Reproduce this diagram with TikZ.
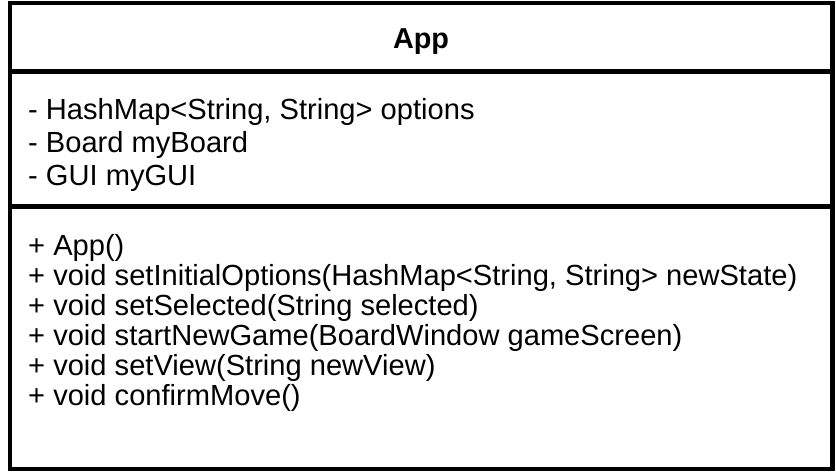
\documentclass[tikz,border=0pt]{standalone}
\usepackage{fontspec}
\setmainfont{Liberation Sans}
\begin{document}
\begin{tikzpicture}[x=1pt,y=-1pt,
  boxline/.style={line width=4.2pt,draw=black},
  member/.style={anchor=base west,inner sep=0pt,font=\fontsize{29.1}{30}\selectfont},
  title/.style={anchor=base,inner sep=0pt,font=\fontsize{28.8}{30}\selectfont\bfseries}]
\useasboundingbox (0,0) rectangle (836,472);
\draw[boxline] (10,3) rectangle (832.5,469);
\coordinate (d1l) at (10,71.5);
\coordinate (d1r) at (832.5,71.5);
\coordinate (d2l) at (10,206.5);
\coordinate (d2r) at (832.5,206.5);
\draw[boxline] (d1l) -- (d1r);
\draw[boxline] (d2l) -- (d2r);
\node[title] (t) at (421,48) {App};
\node[member] (a1) at (28,119) {- HashMap<String, String> options};
\node[member] (a2) at (28,152) {- Board myBoard};
\node[member] (a3) at (28,185) {- GUI myGUI};
\node[member] (m1) at (28,255) {+ App()};
\node[member] (m2) at (28,285) {+ void setInitialOptions(HashMap<String, String> newState)};
\node[member] (m3) at (28,315) {+ void setSelected(String selected)};
\node[member] (m4) at (28,345) {+ void startNewGame(BoardWindow gameScreen)};
\node[member] (m5) at (28,375) {+ void setView(String newView)};
\node[member] (m6) at (28,405) {+ void confirmMove()};
\end{tikzpicture}
\end{document}
